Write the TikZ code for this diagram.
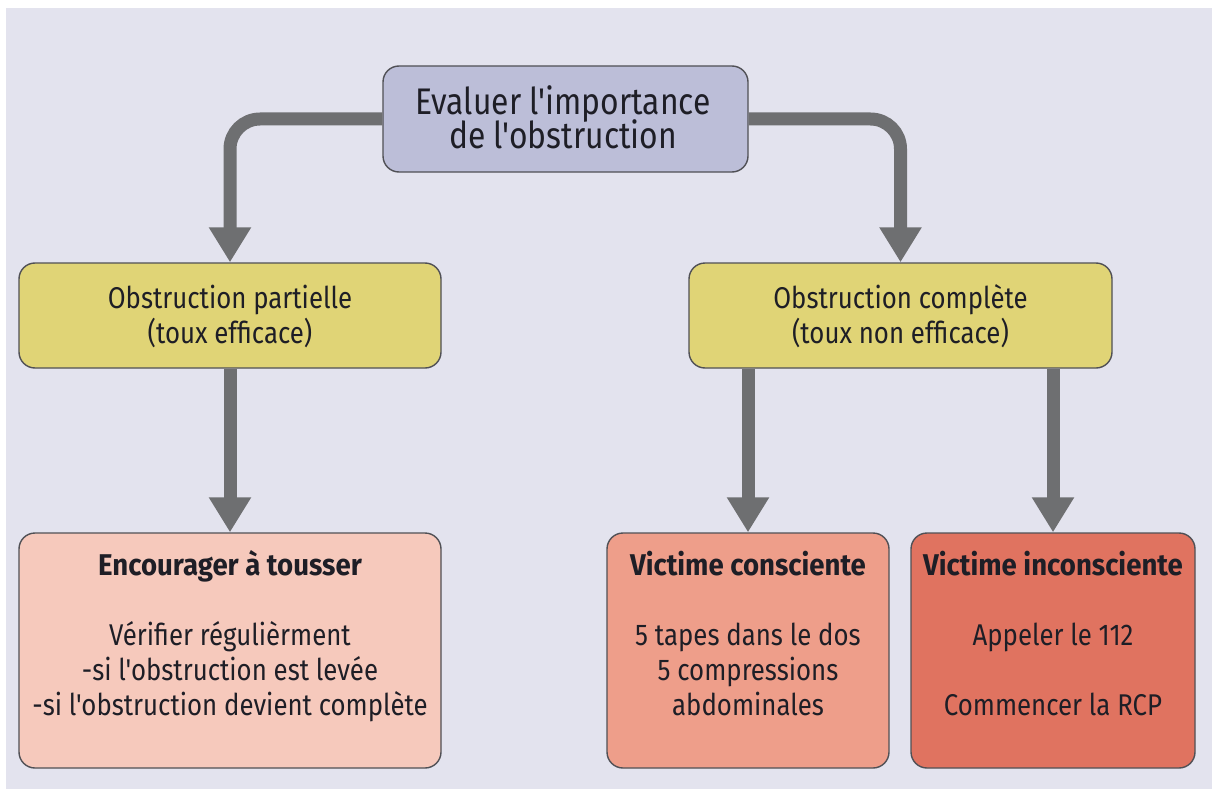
\documentclass[tikz,border=0pt]{standalone}
\usepackage{fontspec}
\newfontfamily\ff{Fira Sans}[FakeStretch=0.86]
\newfontfamily\ffb{Fira Sans}[FakeStretch=0.92]
\newcommand{\ttl}[1]{{\ffb\bfseries #1}}
\usetikzlibrary{arrows.meta}
\definecolor{bg}{HTML}{E3E3EE}
\definecolor{evalc}{HTML}{BCBED8}
\definecolor{yelc}{HTML}{E0D476}
\definecolor{pinkc}{HTML}{F6C9BC}
\definecolor{salc}{HTML}{EE9E8A}
\definecolor{redc}{HTML}{E07360}
\definecolor{boxline}{HTML}{505055}
\definecolor{arrowc}{HTML}{6E6F71}
\definecolor{ink}{HTML}{1E1E26}
\begin{document}
\begin{tikzpicture}[x=1pt,y=-1pt,
  box/.style={draw=boxline, line width=1.4pt, rounded corners=16pt, inner sep=0pt},
  txt/.style={anchor=base, inner sep=0pt, text=ink, font=\ff\fontsize{30}{35}\selectfont},
  arr/.style={draw=arrowc, line width=13pt, rounded corners=30pt, -{Triangle[width=40pt,length=35pt]}}]
\useasboundingbox (0,0) rectangle (1212,789);
\fill[bg] (6,8) rectangle (1212,789);
% boxes
\node[box, fill=evalc, minimum width=365pt, minimum height=106pt] (eval) at (565.5,119) {};
\node[box, fill=yelc, minimum width=422pt, minimum height=105pt] (partial) at (230,315.5) {};
\node[box, fill=yelc, minimum width=423pt, minimum height=105pt] (complete) at (900.5,315.5) {};
\node[box, fill=pinkc, minimum width=422pt, minimum height=235pt] (enc) at (230,650.5) {};
\node[box, fill=salc, minimum width=282pt, minimum height=235pt] (cons) at (748,650.5) {};
\node[box, fill=redc, minimum width=284pt, minimum height=235pt] (uncons) at (1053,650.5) {};
% texts
\node[txt, font=\ff\fontsize{37}{35}\selectfont] (evalt) at (563,114) {\parbox[t]{360pt}{\centering\lineskiplimit=-100pt Evaluer l'importance\\de l'obstruction}};
\node[txt] (partialt) at (230,308) {\parbox[t]{400pt}{\centering\lineskiplimit=-100pt Obstruction partielle\\(toux efficace)}};
\node[txt] (completet) at (900.5,308) {\parbox[t]{400pt}{\centering\lineskiplimit=-100pt Obstruction complète\\(toux non efficace)}};
\node[txt] (enct) at (230,575) {\parbox[t]{420pt}{\centering\lineskiplimit=-100pt \ttl{Encourager à tousser}\\\mbox{}\\Vérifier régulièrment\\-si l'obstruction est levée\\-si l'obstruction devient complète}};
\node[txt] (const) at (748,575) {\parbox[t]{280pt}{\centering\lineskiplimit=-100pt \ttl{Victime consciente}\\\mbox{}\\5 tapes dans le dos\\5 compressions\\abdominales}};
\node[txt] (unconst) at (1053,575) {\parbox[t]{284pt}{\centering\lineskiplimit=-100pt \ttl{Victime inconsciente}\\\mbox{}\\Appeler le 112\\\mbox{}\\Commencer la RCP}};
% connectors
\draw[arr] (eval.west) -| (partial.north);
\draw[arr] (eval.east) -| (complete.north);
\draw[arr] (partial.south) -- (enc.north);
\draw[arr] (cons.north |- complete.south) -- (cons.north);
\draw[arr] (uncons.north |- complete.south) -- (uncons.north);
\end{tikzpicture}
\end{document}
